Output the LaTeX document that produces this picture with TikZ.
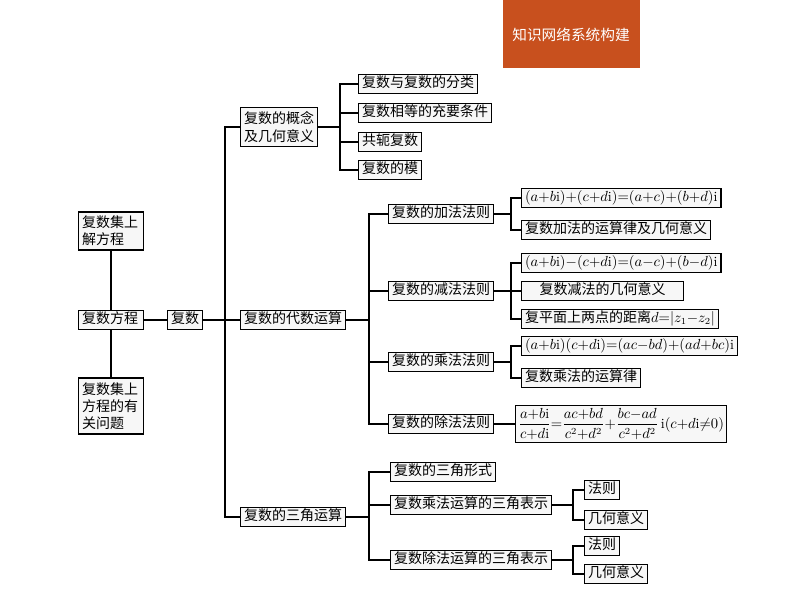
\documentclass[tikz,border=0pt]{standalone}
\usepackage{fontspec}
\newfontfamily\cjk{Noto Sans CJK SC}
\begin{document}
\begin{tikzpicture}[x=0.75pt,y=-0.75pt,
  bx/.style={draw=black,line width=1.1pt,fill=gray!6,font=\cjk\fontsize{10.5}{13}\selectfont,inner xsep=2.5pt,inner ysep=3pt,anchor=west},
  one/.style={text height=1.6ex,text depth=0.35ex},
  ln/.style={line width=0.9pt}]
\useasboundingbox (0,0) rectangle (794,596);
\fill[fill={rgb,255:red,200;green,80;blue,30}] (503,0) rectangle (640,68);
\node[font=\cjk\fontsize{11}{13}\selectfont,text=white] (hdr) at (571,35) {知识网络系统构建};
% left
\node[bx,align=left,text width=58*0.75pt] (jie) at (78,231) {复数集上\\解方程};
\node[bx,one,text width=58*0.75pt] (fcheng) at (78,320) {复数方程};
\node[bx,align=left,text width=58*0.75pt] (wt) at (78,406) {复数集上\\方程的有\\关问题};
\node[bx,one] (fs) at (167,320) {复数};
\draw[ln] (jie) -- (fcheng) -- (wt);
\draw[ln] (fcheng) -- (fs);
% level 1
\node[bx,align=left] (gn) at (240,127) {复数的概念\\及几何意义};
\node[bx,one] (ds) at (240,320) {复数的代数运算};
\node[bx,one] (sj) at (240,517) {复数的三角运算};
\coordinate (t1) at (225,320);
\draw[ln] (fs) -- (ds);
\draw[ln] (gn.west) -| (t1) |- (sj.west);
% concept children
\node[bx,one] (c1) at (358,84) {复数与复数的分类};
\node[bx,one] (c2) at (358,113) {复数相等的充要条件};
\node[bx,one] (c3) at (358,142) {共轭复数};
\node[bx,one] (c4) at (358,170) {复数的模};
\coordinate (b1) at (340,127);
\draw[ln] (gn.east) -- (b1);
\foreach \c in {c1,c2,c3,c4} \draw[ln] (\c.west) -| (b1);
% algebra
\node[bx,one] (jia) at (388,214) {复数的加法法则};
\node[bx,one] (jian) at (388,291) {复数的减法法则};
\node[bx,one] (cheng) at (388,362) {复数的乘法法则};
\node[bx,one] (chu) at (388,424) {复数的除法法则};
\coordinate (b2) at (369,320);
\draw[ln] (ds.east) -- (b2);
\draw[ln] (jia.west) -| (b2) |- (chu.west);
\draw[ln] (jian.west) -- (jian.west -| b2);
\draw[ln] (cheng.west) -- (cheng.west -| b2);
% add children
\node[bx,one] (a1) at (521,198) {$(a{+}b\mathrm{i}){+}(c{+}d\mathrm{i}){=}(a{+}c){+}(b{+}d)\mathrm{i}$};
\node[bx,one] (a2) at (521,230) {复数加法的运算律及几何意义};
\coordinate (b3) at (511,214);
\draw[ln] (jia.east) -- (b3);
\draw[ln] (a1.west) -| (b3) |- (a2.west);
% sub
\node[bx,one] (s1) at (521,263) {$(a{+}b\mathrm{i}){-}(c{+}d\mathrm{i}){=}(a{-}c){+}(b{-}d)\mathrm{i}$};
\node[bx,one,minimum width=162*0.75pt] (s2) at (521,291) {复数减法的几何意义};
\node[bx,one] (s3) at (521,319) {复平面上两点的距离$d{=}|z_1{-}z_2|$};
\coordinate (b4) at (511,291);
\draw[ln] (jian.east) -- (s2.west);
\draw[ln] (s1.west) -| (b4) |- (s3.west);
% mul
\node[bx,one] (m1) at (521,346) {$(a{+}b\mathrm{i})(c{+}d\mathrm{i}){=}(ac{-}bd){+}(ad{+}bc)\mathrm{i}$};
\node[bx,one] (m2) at (521,378) {复数乘法的运算律};
\coordinate (b5) at (511,362);
\draw[ln] (cheng.east) -- (b5);
\draw[ln] (m1.west) -| (b5) |- (m2.west);
% div
\node[bx,inner sep=2pt] (d1) at (515,424) {$\displaystyle\frac{a{+}b\mathrm{i}}{c{+}d\mathrm{i}}{=}\frac{ac{+}bd}{c^2{+}d^2}{+}\frac{bc{-}ad}{c^2{+}d^2}\,\mathrm{i}(c{+}d\mathrm{i}{\neq}0)$};
\draw[ln] (chu.east) -- (d1.west);
% trig
\node[bx,one] (g1) at (390,472) {复数的三角形式};
\node[bx,one] (g2) at (390,505) {复数乘法运算的三角表示};
\node[bx,one] (g3) at (390,560) {复数除法运算的三角表示};
\coordinate (b6) at (369,517);
\draw[ln] (sj.east) -- (b6);
\draw[ln] (g1.west) -| (b6) |- (g3.west);
\draw[ln] (g2.west) -- (g2.west -| b6);
\node[bx,one] (f1) at (584,490) {法则};
\node[bx,one] (y1) at (584,520) {几何意义};
\node[bx,one] (f2) at (584,546) {法则};
\node[bx,one] (y2) at (584,574) {几何意义};
\coordinate (b7) at (573,505);
\coordinate (b8) at (573,560);
\draw[ln] (g2.east) -- (b7);
\draw[ln] (f1.west) -| (b7) |- (y1.west);
\draw[ln] (g3.east) -- (b8);
\draw[ln] (f2.west) -| (b8) |- (y2.west);
\end{tikzpicture}
\end{document}
